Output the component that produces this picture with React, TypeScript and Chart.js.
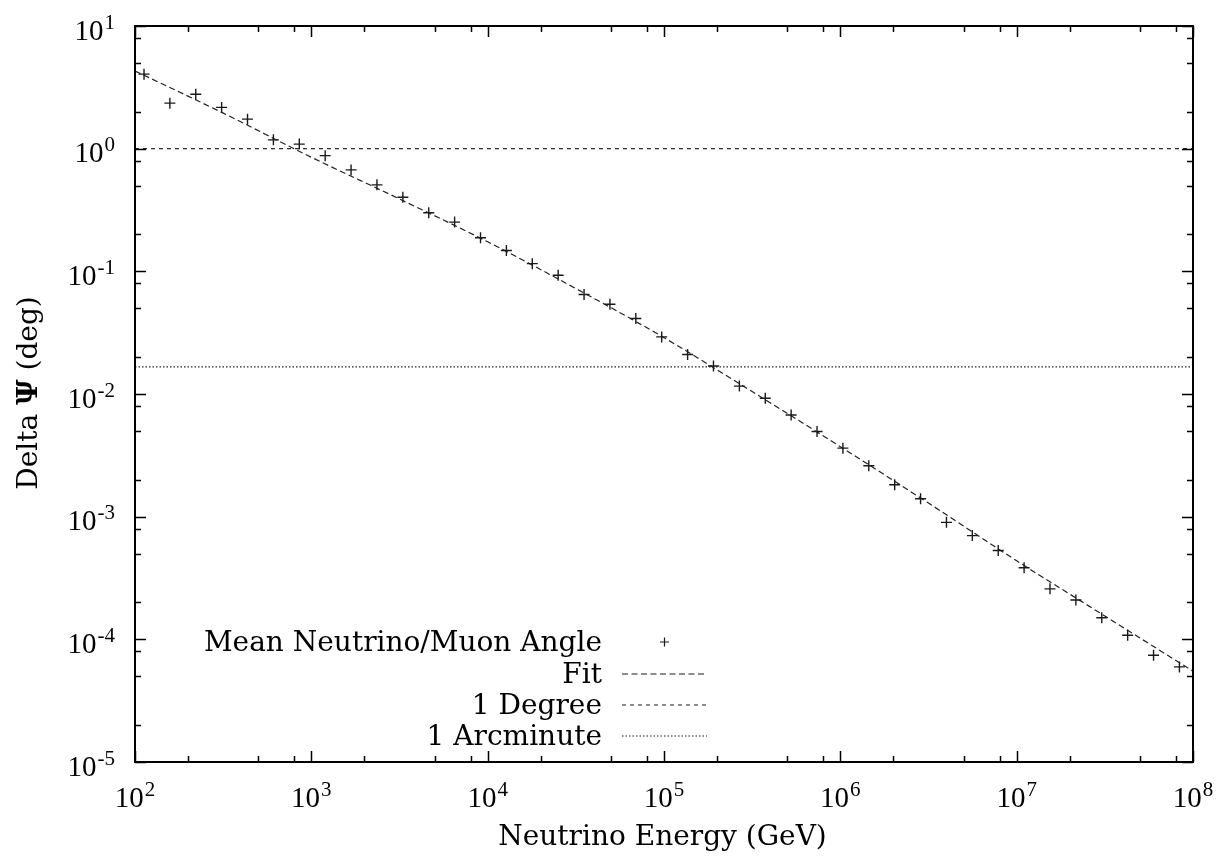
import React, { useEffect, useRef } from "react";
import { Chart, registerables } from "chart.js";

Chart.register(...registerables);

// Neutrino energies (GeV) of the measured points
const energies = [
  112.5, 157.7, 221.1, 310.0, 434.6, 609.5, 854.6, 1198, 1680, 2356,
  3304, 4633, 6495, 9108, 12770, 17910, 25110, 35210, 49370, 69220,
  97050, 136100, 190800, 267600, 375200, 526000, 737700, 1034000, 1450000, 2033000,
  2851000, 3998000, 5606000, 7860000, 11020000, 15450000, 21670000, 30380000, 42600000, 59740000,
  83750000,
];

// Mean neutrino/muon angle (deg)
const meanAngles = [
  4.05, 2.35, 2.78, 2.17, 1.74, 1.18, 1.09, 0.877, 0.671, 0.507,
  0.402, 0.3, 0.252, 0.188, 0.148, 0.1155, 0.0928, 0.0647, 0.0539, 0.0412,
  0.0292, 0.021, 0.0169, 0.0116, 0.00923, 0.00675, 0.00494, 0.00362, 0.0026, 0.00182,
  0.0014, 0.000899, 0.000701, 0.00053, 0.000383, 0.000258, 0.000209, 0.00015, 0.000108, 0.0000741,
  0.0000596,
];

// Fit curve samples (read from the plotted fit)
const fitEnergies = [
  100, 316.2, 1000, 3162, 10000, 31620, 100000, 316200, 1000000, 3162000, 10000000, 31620000, 100000000,
];
const fitAngles = [
  4.3, 1.95, 0.851, 0.389, 0.174, 0.0724, 0.0288, 0.01047, 0.00372, 0.00129, 0.000437, 0.000155, 0.000055,
];

// Reference lines
const refEnergies = [100, 1e8];
const oneDegree = [1, 1];
const oneArcminute = [1 / 60, 1 / 60];

// Axis ticks
const xTickExponents = [2, 3, 4, 5, 6, 7, 8];
const yTickExponents = [-5, -4, -3, -2, -1, 0, 1];
const minorMultipliers = [2, 5, 8];

const legendLabels = ["Mean Neutrino/Muon Angle", "Fit", "1 Degree", "1 Arcminute"];
const xTitle = "Neutrino Energy (GeV)";
const yTitleParts = ["Delta ", "\u03A8", " (deg)"];

const TEXT_FONT = "'DejaVu Serif', serif";
const NUM_FONT = "'Liberation Serif', serif";

const fitDash = [6, 3.5];
const degDash = [4, 4];
const arcDash = [1.5, 2];

function drawPow(ctx: CanvasRenderingContext2D, exp: number, x: number, baseline: number, align: string) {
  const base = "10";
  const sup = String(exp);
  ctx.font = `29px ${NUM_FONT}`;
  const wb = ctx.measureText(base).width;
  ctx.font = `21px ${NUM_FONT}`;
  const ws = ctx.measureText(sup).width;
  const total = wb + 1 + ws;
  const start = align === "center" ? x - total / 2 : x - total;
  ctx.textAlign = "left";
  ctx.textBaseline = "alphabetic";
  ctx.font = `29px ${NUM_FONT}`;
  ctx.fillText(base, start, baseline);
  ctx.font = `21px ${NUM_FONT}`;
  ctx.fillText(sup, start + wb + 1, baseline - 11);
}

const gnuplotPlugin = {
  id: "gnuplotFrame",
  afterDraw(chart: any) {
    const ctx: CanvasRenderingContext2D = chart.ctx;
    const { left, right, top, bottom } = chart.chartArea;
    const xs = chart.scales.x;
    const ys = chart.scales.y;
    ctx.save();
    ctx.strokeStyle = "#000";
    ctx.fillStyle = "#000";

    // ticks
    ctx.lineWidth = 1.5;
    const majorLen = 11;
    const minorLen = 6;
    const xVals: [number, number][] = [];
    const yVals: [number, number][] = [];
    xTickExponents.forEach((e, i) => {
      xVals.push([Math.pow(10, e), majorLen]);
      if (i < xTickExponents.length - 1) minorMultipliers.forEach((m) => xVals.push([m * Math.pow(10, e), minorLen]));
    });
    yTickExponents.forEach((e, i) => {
      yVals.push([Math.pow(10, e), majorLen]);
      if (i < yTickExponents.length - 1) minorMultipliers.forEach((m) => yVals.push([m * Math.pow(10, e), minorLen]));
    });
    ctx.beginPath();
    xVals.forEach(([v, len]) => {
      const px = Math.round(xs.getPixelForValue(v)) + 0.5;
      ctx.moveTo(px, bottom);
      ctx.lineTo(px, bottom - len);
      ctx.moveTo(px, top);
      ctx.lineTo(px, top + len);
    });
    yVals.forEach(([v, len]) => {
      const py = Math.round(ys.getPixelForValue(v)) + 0.5;
      ctx.moveTo(left, py);
      ctx.lineTo(left + len, py);
      ctx.moveTo(right, py);
      ctx.lineTo(right - len, py);
    });
    ctx.stroke();

    // frame
    ctx.lineWidth = 2;
    ctx.strokeRect(left, top, right - left, bottom - top);

    // tick labels
    xTickExponents.forEach((e) => {
      drawPow(ctx, e, xs.getPixelForValue(Math.pow(10, e)), 807, "center");
    });
    yTickExponents.forEach((e) => {
      drawPow(ctx, e, 115, ys.getPixelForValue(Math.pow(10, e)) + 13.5, "right");
    });

    // x title
    ctx.font = `28px ${TEXT_FONT}`;
    ctx.textAlign = "center";
    ctx.textBaseline = "alphabetic";
    ctx.fillText(xTitle, 662.5, 845);

    // y title (rotated)
    ctx.save();
    ctx.translate(37, 393);
    ctx.rotate(-Math.PI / 2);
    const fonts = [`28px ${TEXT_FONT}`, `bold 28px ${TEXT_FONT}`, `28px ${TEXT_FONT}`];
    const widths = yTitleParts.map((t, i) => {
      ctx.font = fonts[i];
      return ctx.measureText(t).width;
    });
    const totalW = widths.reduce((a, b) => a + b, 0);
    let cx = -totalW / 2;
    ctx.textAlign = "left";
    yTitleParts.forEach((t, i) => {
      ctx.font = fonts[i];
      ctx.fillText(t, cx, 0);
      cx += widths[i];
    });
    ctx.restore();

    // legend
    const rowCenters = [642, 673.5, 704.5, 735.5];
    const textRight = 602;
    const sampleL = 622;
    const sampleR = 707;
    ctx.font = `28px ${TEXT_FONT}`;
    ctx.textAlign = "right";
    ctx.textBaseline = "alphabetic";
    legendLabels.forEach((lab, i) => {
      ctx.fillText(lab, textRight, rowCenters[i] + 9);
    });
    // sample: cross
    ctx.strokeStyle = "#1a1a1a";
    ctx.lineWidth = 1.2;
    const cxp = (sampleL + sampleR) / 2;
    ctx.beginPath();
    ctx.moveTo(cxp - 4.5, rowCenters[0]);
    ctx.lineTo(cxp + 4.5, rowCenters[0]);
    ctx.moveTo(cxp, rowCenters[0] - 4.5);
    ctx.lineTo(cxp, rowCenters[0] + 4.5);
    ctx.stroke();
    const dashes = [fitDash, degDash, arcDash];
    dashes.forEach((d, i) => {
      ctx.setLineDash(d);
      ctx.beginPath();
      ctx.moveTo(sampleL, rowCenters[i + 1] + 0.5);
      ctx.lineTo(sampleR, rowCenters[i + 1] + 0.5);
      ctx.stroke();
    });
    ctx.setLineDash([]);
    ctx.restore();
  },
};

export default function App() {
  const canvasRef = useRef<HTMLCanvasElement | null>(null);

  useEffect(() => {
    const canvas = canvasRef.current;
    if (!canvas) return;
    const chart = new Chart(canvas, {
      type: "scatter",
      data: {
        datasets: [
          {
            label: legendLabels[0],
            data: energies.map((e, i) => ({ x: e, y: meanAngles[i] })),
            showLine: false,
            pointStyle: "cross",
            pointRadius: 5.5,
            pointBorderWidth: 1.4,
            borderColor: "#1a1a1a",
            backgroundColor: "#1a1a1a",
          },
          {
            label: legendLabels[1],
            data: fitEnergies.map((e, i) => ({ x: e, y: fitAngles[i] })),
            showLine: true,
            pointRadius: 0,
            borderColor: "#222",
            borderWidth: 1.2,
            borderDash: fitDash,
            cubicInterpolationMode: "monotone",
          },
          {
            label: legendLabels[2],
            data: refEnergies.map((e, i) => ({ x: e, y: oneDegree[i] })),
            showLine: true,
            pointRadius: 0,
            borderColor: "#222",
            borderWidth: 1.2,
            borderDash: degDash,
          },
          {
            label: legendLabels[3],
            data: refEnergies.map((e, i) => ({ x: e, y: oneArcminute[i] })),
            showLine: true,
            pointRadius: 0,
            borderColor: "#222",
            borderWidth: 1.2,
            borderDash: arcDash,
          },
        ],
      },
      options: {
        responsive: false,
        animation: false,
        layout: { padding: { left: 135, right: 31, top: 26, bottom: 101 } },
        plugins: { legend: { display: false }, tooltip: { enabled: false } },
        scales: {
          x: { type: "logarithmic", min: 100, max: 1e8, display: false },
          y: { type: "logarithmic", min: 1e-5, max: 10, display: false },
        },
      },
      plugins: [gnuplotPlugin],
    } as any);
    return () => chart.destroy();
  }, []);

  return (
    <div style={{ position: "absolute", left: 0, top: 0, width: 1224, height: 863, background: "#fff" }}>
      <canvas ref={canvasRef} width={1224} height={863} style={{ display: "block" }} />
    </div>
  );
}
